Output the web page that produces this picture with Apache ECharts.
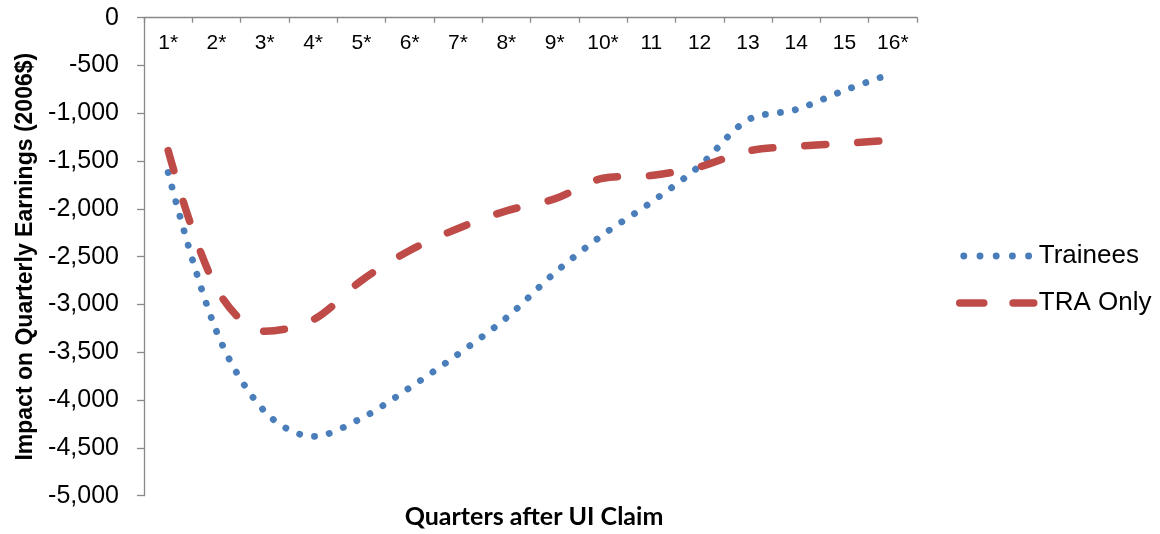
<!DOCTYPE html>
<html>
<head>
<meta charset="utf-8">
<script src="https://cdn.jsdelivr.net/npm/echarts@6/dist/echarts.min.js"></script>
<style>
  html, body { margin: 0; padding: 0; background: #fff; }
  #chart { width: 1160px; height: 534px; }
</style>
</head>
<body>
<div id="chart"></div>
<script>
// Quarters after the UI claim (an asterisk marks a significant difference)
const quarters = ['1*', '2*', '3*', '4*', '5*', '6*', '7*', '8*', '9*', '10*', '11', '12', '13', '14', '15', '16*'];

// Impact on quarterly earnings, 2006 dollars
const trainees = [-1620, -3280, -4120, -4380, -4190, -3870, -3520, -3140, -2670, -2270, -1930, -1550, -1070, -960, -760, -580];
const traOnly  = [-1390, -2830, -3280, -3160, -2750, -2435, -2205, -2020, -1895, -1680, -1650, -1560, -1395, -1345, -1315, -1280];

const seriesNames = ['Trainees', 'TRA Only'];
const yTitle = 'Impact on Quarterly Earnings (2006$)';
const xTitle = 'Quarters after UI Claim';

const axisGrey = '#898989';
const blue = '#4A7EBB';
const red = '#BE4B48';
const font = '"Liberation Sans", Arial, sans-serif';

const chart = echarts.init(document.getElementById('chart'), null, { renderer: 'canvas' });

chart.setOption({
  animation: false,
  backgroundColor: '#ffffff',
  grid: {
    left: 144, right: 243, top: 17.7, bottom: 38.3,
    containLabel: false,
    outerBoundsMode: 'none'
  },
  legend: {
    orient: 'vertical',
    left: 956,
    top: 243,
    padding: 0,
    itemWidth: 74,
    itemHeight: 14,
    itemGap: 21,
    textStyle: { fontFamily: font, fontSize: 26, color: '#000' },
    // only the line is shown in the key, no marker on it
    itemStyle: { opacity: 0 },
    data: [
      {
        name: seriesNames[0],
        lineStyle: { color: blue, width: 6.8, type: [0.1, 16.1], dashOffset: -4, cap: 'round' }
      },
      {
        name: seriesNames[1],
        lineStyle: { color: red, width: 7.5, type: [24, 29.3], dashOffset: 0, cap: 'round' }
      }
    ]
  },
  xAxis: {
    type: 'category',
    position: 'top',
    data: quarters,
    boundaryGap: true,
    axisLine: { show: true, onZero: false, lineStyle: { color: axisGrey, width: 1.3 } },
    axisTick: { show: true, inside: true, length: 5, lineStyle: { color: axisGrey, width: 1.3 } },
    axisLabel: { inside: true, margin: 15, fontFamily: font, fontSize: 21, color: '#000' },
    splitLine: { show: false }
  },
  yAxis: {
    type: 'value',
    min: -5000,
    max: 0,
    interval: 500,
    name: yTitle,
    nameLocation: 'middle',
    nameRotate: 90,
    nameGap: 107,
    nameTextStyle: { fontFamily: font, fontWeight: 'bold', fontSize: 23, color: '#000' },
    axisLine: { show: true, lineStyle: { color: axisGrey, width: 1.3 } },
    axisTick: { show: true, length: 7, lineStyle: { color: axisGrey, width: 1.3 } },
    axisLabel: {
      margin: 25,
      fontFamily: font,
      fontSize: 25,
      color: '#000',
      formatter: v => v.toLocaleString('en-US')
    },
    splitLine: { show: false }
  },
  graphic: [{
    type: 'text',
    x: 534,
    y: 517,
    style: {
      text: xTitle,
      font: 'bold 25px Lato, "Liberation Sans", sans-serif',
      fill: '#000',
      align: 'center',
      verticalAlign: 'middle'
    }
  }],
  series: [
    {
      name: seriesNames[0],
      type: 'line',
      data: trainees,
      smooth: 0.33,
      symbol: 'none',
      z: 2,
      itemStyle: { color: blue },
      lineStyle: { color: blue, width: 6.8, type: [0.1, 15], cap: 'round', join: 'round' }
    },
    {
      name: seriesNames[1],
      type: 'line',
      data: traOnly,
      smooth: 0.33,
      symbol: 'none',
      z: 3,
      itemStyle: { color: red },
      lineStyle: { color: red, width: 7.5, type: [21, 32], cap: 'round', join: 'round' }
    }
  ]
});
</script>
</body>
</html>
